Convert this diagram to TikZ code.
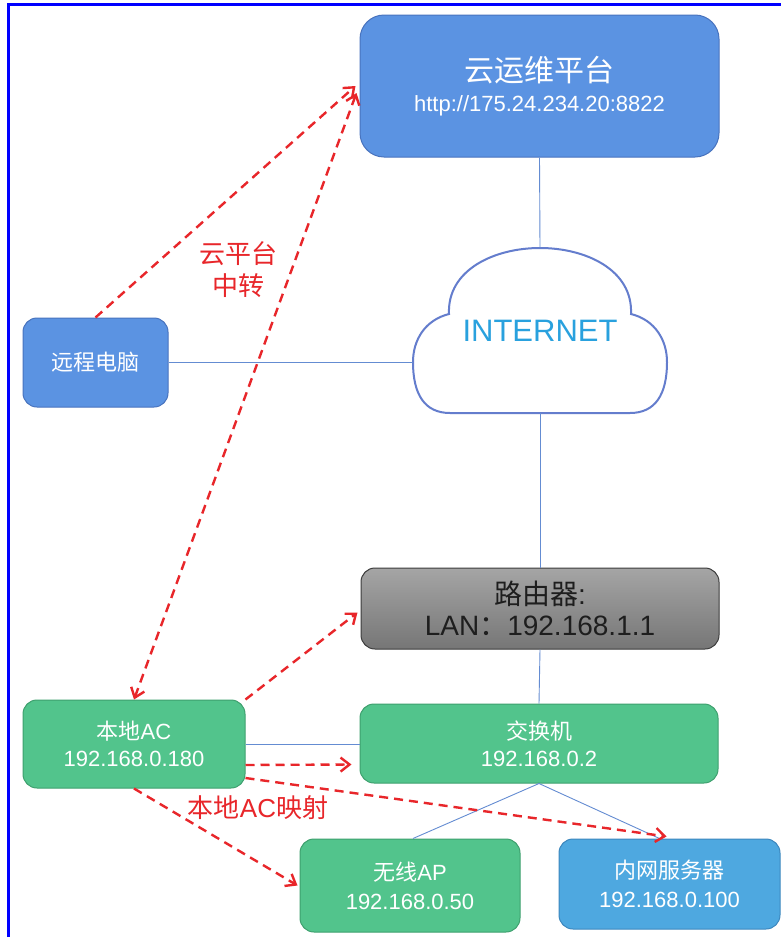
\documentclass[tikz,border=0pt]{standalone}
\usepackage{fontspec}
\setmainfont{Liberation Sans}
\newfontfamily\cjk{Noto Sans CJK SC}
\usetikzlibrary{arrows.meta,calc}
\definecolor{platblue}{RGB}{91,147,226}
\definecolor{platedge}{RGB}{72,115,190}
\definecolor{greenfill}{RGB}{82,196,140}
\definecolor{greenedge}{RGB}{62,160,110}
\definecolor{srvfill}{RGB}{78,168,224}
\definecolor{srvedge}{RGB}{60,135,190}
\definecolor{linkblue}{RGB}{100,140,210}
\definecolor{dashred}{RGB}{232,38,42}
\definecolor{cloudedge}{RGB}{100,125,205}
\definecolor{nettext}{RGB}{41,161,222}
\definecolor{rtrtop}{RGB}{165,165,165}
\definecolor{rtrbot}{RGB}{118,118,118}
\definecolor{rtredge}{RGB}{60,60,60}
\definecolor{rtrtext}{RGB}{30,30,30}
\definecolor{framblue}{RGB}{0,0,255}
\begin{document}
\begin{tikzpicture}[x=1pt,y=-1pt,
  >={Straight Barb[length=9pt,width=14pt]},
  box/.style={draw, rounded corners=14pt, line width=1pt, inner sep=0pt, align=center, text=white, font=\fontsize{22}{27}\selectfont},
  greenbox/.style={box, fill=greenfill, draw=greenedge},
  link/.style={draw=linkblue, line width=0.9pt},
  relay/.style={draw=dashred, line width=2.4pt, dash pattern=on 9pt off 6pt},
  redlbl/.style={text=dashred, align=center}
  ]
\useasboundingbox (0,0) rectangle (781,937);
\fill[white] (0,0) rectangle (781,937);
% frame
\draw[framblue, line width=2.5pt] (8.5,937) -- (8.5,4.5) -- (781,4.5);

% cloud outline
\draw[cloudedge, line width=2pt, fill=white]
  (449,314) .. controls (447,270) and (494,248) .. (540,248)
  .. controls (586,248) and (633,270) .. (631,314)
  .. controls (655,320) and (667,340) .. (667,362)
  .. controls (667,395) and (655,413) .. (630,413)
  -- (450,413)
  .. controls (425,413) and (413,395) .. (413,362)
  .. controls (413,340) and (425,320) .. (449,314) -- cycle;

% nodes
\node[box, fill=platblue, draw=platedge, rounded corners=24pt, minimum width=359pt, minimum height=142pt, font=\fontsize{22}{30}\selectfont] (plat) at (539.5,86)
  {{\fontsize{30}{30}\selectfont\cjk 云运维平台}\\http://175.24.234.20:8822};
\node[minimum width=254pt, minimum height=165pt, inner sep=0pt, text=nettext, font=\fontsize{31}{31}\selectfont] (cloud) at (540,330.5) {INTERNET};
\node[box, fill=platblue, draw=platedge, minimum width=145pt, minimum height=89pt, font=\cjk\fontsize{22}{27}\selectfont] (pc) at (95.5,362.5) {远程电脑};
\node[box, top color=rtrtop, bottom color=rtrbot, draw=rtredge, text=rtrtext, minimum width=358pt, minimum height=81pt, font=\fontsize{28}{31}\selectfont] (router) at (540,608.5)
  {{\cjk 路由器}:\\LAN{\cjk ：}192.168.1.1};
\node[greenbox, minimum width=222pt, minimum height=88pt] (ac) at (134,744) {{\cjk 本地}AC\\192.168.0.180};
\node[greenbox, minimum width=358pt, minimum height=79pt] (sw) at (539,743.5) {{\cjk 交换机}\\192.168.0.2};
\node[greenbox, minimum width=220pt, minimum height=93pt] (ap) at (410,885.5) {{\cjk 无线}AP\\[2pt]192.168.0.50};
\node[box, fill=srvfill, draw=srvedge, minimum width=221pt, minimum height=90pt] (srv) at (669.5,884) {{\cjk 内网服务器}\\[2pt]192.168.0.100};

% solid links
\draw[link] (plat.south) -- (cloud.north);
\draw[link] (pc.east) -- (cloud.west |- pc.east);
\draw[link] (cloud.south) -- (router.north);
\draw[link] (router.south) -- (sw.north);
\draw[link] (ac.east) -- (sw.west |- ac.east);
\draw[link] (sw.south) -- ([xshift=3pt]ap.north);
\draw[link] (sw.south) -- ([xshift=-10pt]srv.north);

% red dashed relays
\draw[relay, ->] (pc.north) -- ([xshift=-4pt]plat.west);
\draw[relay, <->] (ac.north) -- ([xshift=-3pt,yshift=-7pt]plat.west);
\draw[relay, ->] (ac.north east) -- ([xshift=-3pt,yshift=-4pt]router.west);
\draw[relay, ->] ([yshift=-21pt]ac.east) -- ([xshift=-8pt,yshift=-21pt]sw.west);
\draw[relay, ->] ([yshift=-34pt]ac.east) -- ([xshift=-3pt,yshift=2pt]srv.north);
\draw[relay, ->] (ac.south) -- ([xshift=-2pt]ap.west);

% labels
\node[redlbl, font=\cjk\fontsize{26}{32}\selectfont] (relaylbl) at (238,270) {云平台\\中转};
\node[redlbl, font=\fontsize{26}{26}\selectfont] (maplbl) at (258,808) {{\cjk 本地}AC{\cjk 映射}};
\end{tikzpicture}
\end{document}
